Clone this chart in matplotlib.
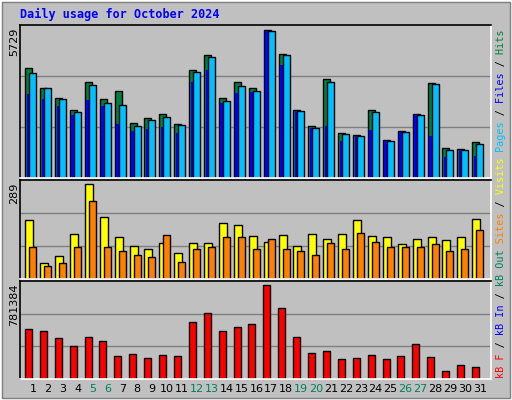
import matplotlib
matplotlib.use("Agg")
import matplotlib.pyplot as plt
from matplotlib.patches import Rectangle

days = list(range(1, 32))
hits = [4252,3475,3086,2620,3708,3047,3358,2114,2309,2464,2075,4174,4769,3086,3708,
        3475,5729,4796,2620,1998,3824,1726,1648,2620,1492,1803,2464,3669,1181,1143,1376]
files = [4058,3475,3047,2542,3591,2892,2814,1998,2231,2348,2037,4097,4680,2970,3552,
         3358,5690,4757,2581,1920,3708,1687,1610,2542,1415,1764,2425,3630,1104,1104,1337]
pages = [3253,3059,2787,2437,3020,2787,2075,1815,1881,1970,1726,3720,4174,2903,3292,
         3340,5690,4380,2581,1920,1998,1426,1610,1842,1415,1764,2425,1610,832,1104,871]
visits = [180,50,69,138,289,188,126,100,91,110,79,110,110,170,163,
          132,113,135,100,138,122,138,179,132,126,107,122,129,119,129,182]
sites = [97,38,50,97,236,97,85,72,66,135,53,91,97,129,129,
         91,122,91,85,72,110,91,141,113,97,97,97,107,85,91,148]
kbytes = [412000,395000,343000,275000,352000,318000,189000,206000,172000,197000,189000,
          472000,550000,395000,429000,455000,781384,592000,352000,215000,232000,163000,
          172000,197000,163000,189000,292000,180000,69000,120000,103000]
weekend = {5, 6, 12, 13, 19, 20, 26, 27}

W, H = 512, 400
fig = plt.figure(figsize=(W/100, H/100), dpi=100)
fig.patch.set_facecolor("#C0C0C0")
fig.add_artist(Rectangle((0, 0), 1, 1, transform=fig.transFigure, fill=False, ec="white", lw=2))
fig.add_artist(Rectangle((2/W, 2/H), 1-4/W, 1-4/H, transform=fig.transFigure, fill=False, ec="#808080", lw=1))

def ax_at(x0, y0, x1, y1):
    return fig.add_axes([x0/W, 1-y1/H, (x1-x0)/W, (y1-y0)/H])

XL = (0.128, 31.74)
def style(ax, ymax):
    ax.set_facecolor("#C0C0C0")
    ax.set_xlim(*XL)
    ax.set_ylim(0, ymax)
    for f in (1/3, 2/3):
        ax.axhline(ymax*f, color="#808080", lw=1, zorder=0)
    ax.set_xticks([]); ax.set_yticks([])
    for s in ("top", "left"):
        ax.spines[s].set_color("black")
    for s in ("bottom", "right"):
        ax.spines[s].set_color("white")
    for s in ax.spines.values():
        s.set_linewidth(1.2)

bw = dict(edgecolor="black", linewidth=1, align="edge")
ax1 = ax_at(20, 25, 491, 178)
style(ax1, max(hits)*1.035)
ax1.bar([d-0.52 for d in days], hits, width=0.47, color="#008040", **bw)
ax1.bar([d-0.42 for d in days], pages, width=0.17, color="#0000FF", linewidth=0, align="edge")
ax1.bar([d-0.25 for d in days], files, width=0.47, color="#00C0FF", **bw)

ax2 = ax_at(20, 180, 491, 279)
style(ax2, max(visits)*1.04)
ax2.bar([d-0.52 for d in days], visits, width=0.54, color="#FFFF00", **bw)
ax2.bar([d-0.25 for d in days], sites, width=0.47, color="#FF8000", **bw)

ax3 = ax_at(20, 281, 491, 379)
style(ax3, max(kbytes)*1.04)
ax3.bar([d-0.54 for d in days], kbytes, width=0.47, color="#FF0000", **bw)

for d in days:
    x = 20 + (d - XL[0]) / (XL[1]-XL[0]) * 471
    fig.text(x/W, 1-389/H, str(d), ha="center", va="center", fontsize=8,
             color="#00805C" if d in weekend else "black")

fig.text(20/W, 1-14/H, "Daily usage for October 2024", fontsize=8.5, fontweight="bold",
         color="#0000FF", family="DejaVu Sans Mono", va="center")

for lab, ytop in (("5729", 28), ("289", 183), ("781384", 284)):
    fig.text(14/W, 1-ytop/H, lab, rotation=90, ha="center", va="top", fontsize=8)

def colored(segs, ybot):
    full = "".join(s for s, _ in segs)
    pos = 0
    for s, c in segs:
        t = " "*pos + s + " "*(len(full)-pos-len(s))
        fig.text(501/W, 1-ybot/H, t, rotation=90, ha="center", va="bottom", fontsize=7.3,
                 family="DejaVu Sans Mono", color=c)
        pos += len(s)

colored([("Pages", "#00C0FF"), (" / ", "black"), ("Files", "#0000FF"),
         (" / ", "black"), ("Hits", "#008040")], 152)
colored([("kB F", "#FF0000"), (" / ", "black"), ("kB In", "#0000FF"), (" / ", "black"),
         ("kB Out", "#00805C"), (" ", "black"), ("Sites", "#FF8000"), (" / ", "black"),
         ("Visits", "#FFFF00")], 378)

fig.savefig("out.png", dpi=100, facecolor=fig.get_facecolor())
